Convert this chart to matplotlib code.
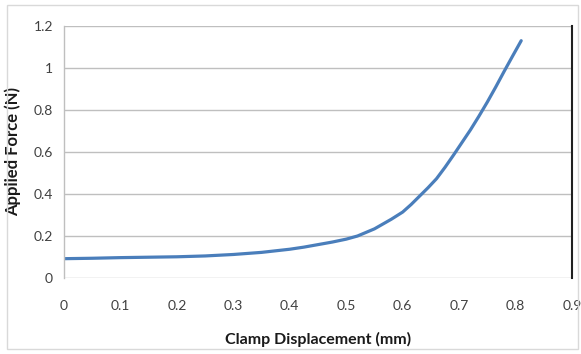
import matplotlib
matplotlib.use("Agg")
import matplotlib.pyplot as plt
from matplotlib.patches import Rectangle

# Data
displacement_mm = [0.00, 0.05, 0.10, 0.15, 0.20, 0.25, 0.30, 0.35, 0.40, 0.425,
                   0.45, 0.475, 0.50, 0.52, 0.55, 0.58, 0.60, 0.615, 0.63,
                   0.645, 0.66, 0.675, 0.69, 0.705, 0.72, 0.735, 0.75, 0.765,
                   0.78, 0.795, 0.81]
force_N = [0.092, 0.094, 0.097, 0.099, 0.101, 0.105, 0.112, 0.122, 0.137, 0.147,
           0.159, 0.171, 0.185, 0.200, 0.234, 0.280, 0.314, 0.350, 0.390,
           0.430, 0.473, 0.527, 0.585, 0.645, 0.705, 0.770, 0.838, 0.910,
           0.985, 1.058, 1.130]

x_ticks = [0, 0.1, 0.2, 0.3, 0.4, 0.5, 0.6, 0.7, 0.8, 0.9]
x_tick_labels = ["0", "0.1", "0.2", "0.3", "0.4", "0.5", "0.6", "0.7", "0.8", "0.9"]
y_ticks = [0, 0.2, 0.4, 0.6, 0.8, 1.0, 1.2]
y_tick_labels = ["0", "0.2", "0.4", "0.6", "0.8", "1", "1.2"]

plt.rcParams['font.family'] = ['Lato', 'DejaVu Sans']

fig = plt.figure(figsize=(5.81, 3.54), dpi=100)
fig.patch.set_facecolor("white")
fig.patches.append(Rectangle((7/581, 1 - 349/354), 571/581, 344/354,
                             transform=fig.transFigure, fill=False,
                             edgecolor="#d9d9d9", linewidth=1.0))

ax = fig.add_axes([64/581, 1 - 278/354, 508/581, 252/354])
ax.plot(displacement_mm, force_N, color="#4a7ebb", linewidth=2.3,
        solid_capstyle="round", solid_joinstyle="round")

ax.set_xlim(0, 0.9)
ax.set_ylim(0, 1.2)
ax.set_xticks(x_ticks)
ax.set_xticklabels(x_tick_labels)
ax.set_yticks(y_ticks)
ax.set_yticklabels(y_tick_labels)
ax.tick_params(length=0, labelsize=10, colors="#404040", pad=16)
ax.tick_params(axis="y", pad=8)
ax.grid(axis="y", color="#bfbfbf", linewidth=1.0)
ax.set_axisbelow(True)
for s in ["top", "bottom"]:
    ax.spines[s].set_visible(False)
ax.spines["left"].set_color("#bfbfbf")
ax.spines["left"].set_linewidth(1.0)
ax.spines["right"].set_color("#202020")
ax.spines["right"].set_linewidth(1.5)

ax.set_xlabel("Clamp Displacement (mm)", fontsize=11.5, fontweight="bold",
              color="#1a1a1a", labelpad=14)
ax.set_ylabel("Applied Force (N)", fontsize=12, fontweight="bold",
              color="#1a1a1a", labelpad=9)

fig.savefig("out.png", dpi=100)
